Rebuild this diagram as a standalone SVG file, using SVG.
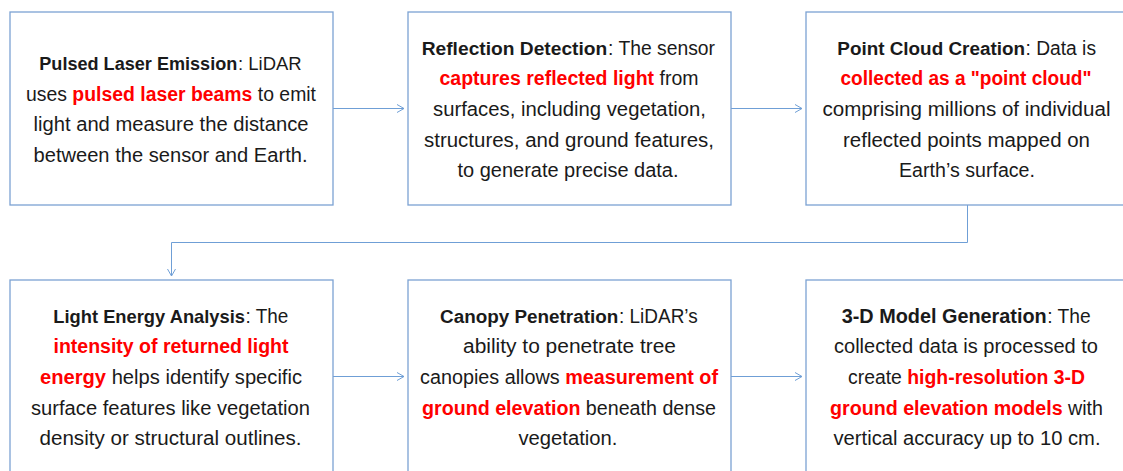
<svg xmlns="http://www.w3.org/2000/svg" width="1123" height="471" viewBox="0 0 1123 471">
<style>
.box{fill:#ffffff;stroke:#7ca2d3;stroke-width:1.3}
.t{font-family:"Liberation Sans",Arial,sans-serif;font-size:20px;fill:#1a1a1a;text-anchor:middle}
.s{font-family:"Liberation Sans",Arial,sans-serif;fill:#1a1a1a;text-anchor:start}
.b{font-weight:bold}
.r{fill:#ff0000;font-weight:bold}
.c{fill:none;stroke:#6f9fd6;stroke-width:1}
</style>
<defs>
<marker id="arr" markerUnits="userSpaceOnUse" markerWidth="10" markerHeight="10" refX="7" refY="4.5" orient="auto" viewBox="0 0 10 10">
<path d="M0,0.5 L7,4.5 L0,8.5" fill="none" stroke="#6f9fd6" stroke-width="1"/>
</marker>
</defs>
<rect width="1123" height="471" fill="#ffffff"/>
<g id="connectors">
<path class="c" d="M333,108.5 H404" marker-end="url(#arr)"/>
<path class="c" d="M731,108.5 H802" marker-end="url(#arr)"/>
<path class="c" d="M967.5,205 V242.5 H171.5 V276" marker-end="url(#arr)"/>
<path class="c" d="M333,376.5 H404" marker-end="url(#arr)"/>
<path class="c" d="M731,376.5 H802" marker-end="url(#arr)"/>
</g>
<g id="node1">
<rect class="box" x="10" y="12" width="323" height="193"/>
<text class="s b" x="39.3" y="70" style="font-size:18px" textLength="198" lengthAdjust="spacingAndGlyphs">Pulsed Laser Emission</text>
<text class="s" x="238" y="70" style="font-size:18.5px" textLength="63.7" lengthAdjust="spacingAndGlyphs">: LiDAR</text>
<text class="t" x="171" y="100.6" textLength="290" lengthAdjust="spacingAndGlyphs">uses <tspan class="r">pulsed laser beams</tspan> to emit</text>
<text class="t" x="171" y="131.2" textLength="275" lengthAdjust="spacingAndGlyphs">light and measure the distance</text>
<text class="t" x="170.5" y="161.8" textLength="274" lengthAdjust="spacingAndGlyphs">between the sensor and Earth.</text>
</g>
<g id="node2">
<rect class="box" x="408" y="12" width="323" height="193"/>
<text class="s b" x="421.7" y="54.8" style="font-size:19.1px" textLength="185.6" lengthAdjust="spacingAndGlyphs">Reflection Detection</text>
<text class="s" x="608" y="54.8" style="font-size:20px" textLength="107" lengthAdjust="spacingAndGlyphs">: The sensor</text>
<text class="t" x="569" y="85.4" style="font-size:19.4px" textLength="259" lengthAdjust="spacingAndGlyphs"><tspan class="r">captures reflected light</tspan> from</text>
<text class="t" x="569.5" y="116" textLength="273" lengthAdjust="spacingAndGlyphs">surfaces, including vegetation,</text>
<text class="t" x="569" y="146.6" textLength="290" lengthAdjust="spacingAndGlyphs">structures, and ground features,</text>
<text class="t" x="568" y="177.2" textLength="221" lengthAdjust="spacingAndGlyphs">to generate precise data.</text>
</g>
<g id="node3">
<rect class="box" x="806" y="12" width="323" height="193"/>
<text class="s b" x="837.3" y="54.8" style="font-size:18.8px" textLength="187.7" lengthAdjust="spacingAndGlyphs">Point Cloud Creation</text>
<text class="s" x="1025.5" y="54.8" style="font-size:20px" textLength="70.5" lengthAdjust="spacingAndGlyphs">: Data is</text>
<text class="t" x="966" y="85.4" textLength="251" lengthAdjust="spacingAndGlyphs"><tspan class="r">collected as a "point cloud"</tspan></text>
<text class="t" x="966.5" y="116" textLength="288" lengthAdjust="spacingAndGlyphs">comprising millions of individual</text>
<text class="t" x="966.5" y="146.6" textLength="247" lengthAdjust="spacingAndGlyphs">reflected points mapped on</text>
<text class="t" x="967" y="177.2" textLength="136" lengthAdjust="spacingAndGlyphs">Earth’s surface.</text>
</g>
<g id="node4">
<rect class="box" x="10" y="280" width="323" height="193"/>
<text class="s b" x="53.3" y="322.8" style="font-size:18.2px" textLength="191.7" lengthAdjust="spacingAndGlyphs">Light Energy Analysis</text>
<text class="s" x="245.5" y="322.8" style="font-size:20px" textLength="42.8" lengthAdjust="spacingAndGlyphs">: The</text>
<text class="t" x="171" y="353.4" textLength="235" lengthAdjust="spacingAndGlyphs"><tspan class="r">intensity of returned light</tspan></text>
<text class="t" x="171" y="384" textLength="262" lengthAdjust="spacingAndGlyphs"><tspan class="r">energy</tspan> helps identify specific</text>
<text class="t" x="170.5" y="414.6" textLength="279" lengthAdjust="spacingAndGlyphs">surface features like vegetation</text>
<text class="t" x="170.5" y="445.2" textLength="262" lengthAdjust="spacingAndGlyphs">density or structural outlines.</text>
</g>
<g id="node5">
<rect class="box" x="408" y="280" width="323" height="193"/>
<text class="s b" x="440" y="322.8" style="font-size:18.8px" textLength="178.3" lengthAdjust="spacingAndGlyphs">Canopy Penetration</text>
<text class="s" x="619" y="322.8" style="font-size:20px" textLength="78.7" lengthAdjust="spacingAndGlyphs">: LiDAR’s</text>
<text class="t" x="569.5" y="353.4" textLength="213" lengthAdjust="spacingAndGlyphs">ability to penetrate tree</text>
<text class="t" x="569" y="384" textLength="298" lengthAdjust="spacingAndGlyphs">canopies allows <tspan class="r">measurement of</tspan></text>
<text class="t" x="569" y="414.6" textLength="294" lengthAdjust="spacingAndGlyphs"><tspan class="r">ground elevation</tspan> beneath dense</text>
<text class="t" x="568" y="445.2" textLength="99" lengthAdjust="spacingAndGlyphs">vegetation.</text>
</g>
<g id="node6">
<rect class="box" x="806" y="280" width="323" height="193"/>
<text class="s b" x="841.7" y="322.8" style="font-size:19.7px" textLength="205" lengthAdjust="spacingAndGlyphs">3-D Model Generation</text>
<text class="s" x="1047.2" y="322.8" style="font-size:20px" textLength="43.5" lengthAdjust="spacingAndGlyphs">: The</text>
<text class="t" x="966" y="353.4" textLength="264" lengthAdjust="spacingAndGlyphs">collected data is processed to</text>
<text class="t" x="966.5" y="384" textLength="237" lengthAdjust="spacingAndGlyphs">create <tspan class="r">high-resolution 3-D</tspan></text>
<text class="t" x="966.5" y="414.6" textLength="273" lengthAdjust="spacingAndGlyphs"><tspan class="r">ground elevation models</tspan> with</text>
<text class="t" x="967" y="445.2" textLength="267" lengthAdjust="spacingAndGlyphs">vertical accuracy up to 10 cm.</text>
</g>
</svg>
